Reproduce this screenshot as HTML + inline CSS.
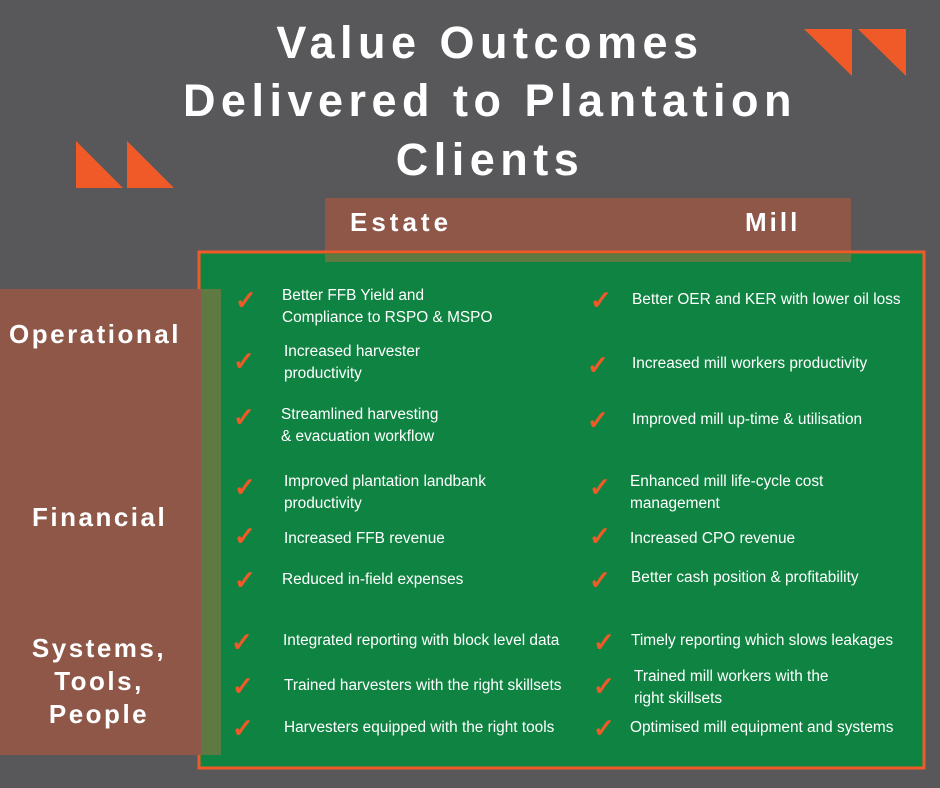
<!DOCTYPE html>
<html><head><meta charset="utf-8"><style>
body{margin:0;width:940px;height:788px;background:#58585a;position:relative;overflow:hidden;font-family:"Liberation Sans",sans-serif}
.a{position:absolute}
.t{position:absolute;left:0;width:980px;text-align:center;color:#fff;font-weight:bold;font-size:45px;letter-spacing:5.5px;white-space:nowrap}
.h{position:absolute;color:#fff;font-weight:bold;font-size:26px;letter-spacing:2.5px;white-space:nowrap}
.s{position:absolute;color:#fff;font-size:15.4px;line-height:22px;white-space:nowrap}
.c{position:absolute;color:#f05a28;font-size:26px;line-height:24px;font-weight:bold}
</style></head><body>
<svg class="a" style="left:0;top:0" width="940" height="788">
<polygon points="804,29 852,29 852,76" fill="#f05a28"/>
<polygon points="858,29 906,29 906,76" fill="#f05a28"/>
<polygon points="76,141 76,188 123,188" fill="#f05a28"/>
<polygon points="127,141 127,188 174,188" fill="#f05a28"/>
<rect x="325" y="198" width="526" height="64" fill="#8e5748"/>
<rect x="199" y="252" width="725" height="516" fill="#0f8442" stroke="#f05a28" stroke-width="3"/>
<rect x="325" y="254" width="526" height="8" fill="#5e7a42"/>
<rect x="0" y="289" width="221" height="466" fill="#8e5748"/>
<rect x="201" y="289" width="20" height="466" fill="#5e7a42"/>
</svg>
<div class="t" style="top:17px">Value Outcomes</div>
<div class="t" style="top:75px">Delivered to Plantation</div>
<div class="t" style="top:134px">Clients</div>
<div class="h" style="left:350px;top:207px;letter-spacing:4px">Estate</div>
<div class="h" style="left:745px;top:207px;letter-spacing:3px">Mill</div>
<div class="h" style="left:9px;top:319px">Operational</div>
<div class="h" style="left:32px;top:502px">Financial</div>
<div class="h" style="left:24px;top:632px;text-align:center;width:150px;line-height:33px">Systems,<br>Tools,<br>People</div>

<div class="c" style="left:235px;top:288px">✓</div><div class="s" style="left:282px;top:285px">Better FFB Yield and<br>Compliance to RSPO &amp; MSPO</div>
<div class="c" style="left:233px;top:349px">✓</div><div class="s" style="left:284px;top:341px">Increased harvester<br>productivity</div>
<div class="c" style="left:233px;top:405px">✓</div><div class="s" style="left:281px;top:404px">Streamlined harvesting<br>&amp; evacuation workflow</div>
<div class="c" style="left:234px;top:475px">✓</div><div class="s" style="left:284px;top:471px">Improved plantation landbank<br>productivity</div>
<div class="c" style="left:234px;top:524px">✓</div><div class="s" style="left:284px;top:528px">Increased FFB revenue</div>
<div class="c" style="left:234px;top:568px">✓</div><div class="s" style="left:282px;top:569px">Reduced in-field expenses</div>
<div class="c" style="left:231px;top:630px">✓</div><div class="s" style="left:283px;top:630px">Integrated reporting with block level data</div>
<div class="c" style="left:232px;top:674px">✓</div><div class="s" style="left:284px;top:675px">Trained harvesters with the right skillsets</div>
<div class="c" style="left:232px;top:716px">✓</div><div class="s" style="left:284px;top:717px">Harvesters equipped with the right tools</div>

<div class="c" style="left:590px;top:288px">✓</div><div class="s" style="left:632px;top:289px">Better OER and KER with lower oil loss</div>
<div class="c" style="left:587px;top:353px">✓</div><div class="s" style="left:632px;top:353px">Increased mill workers productivity</div>
<div class="c" style="left:587px;top:408px">✓</div><div class="s" style="left:632px;top:409px">Improved mill up-time &amp; utilisation</div>
<div class="c" style="left:589px;top:475px">✓</div><div class="s" style="left:630px;top:471px">Enhanced mill life-cycle cost<br>management</div>
<div class="c" style="left:589px;top:524px">✓</div><div class="s" style="left:630px;top:528px">Increased CPO revenue</div>
<div class="c" style="left:589px;top:568px">✓</div><div class="s" style="left:631px;top:567px">Better cash position &amp; profitability</div>
<div class="c" style="left:593px;top:630px">✓</div><div class="s" style="left:631px;top:630px">Timely reporting which slows leakages</div>
<div class="c" style="left:593px;top:674px">✓</div><div class="s" style="left:634px;top:666px">Trained mill workers with the<br>right skillsets</div>
<div class="c" style="left:593px;top:716px">✓</div><div class="s" style="left:630px;top:717px">Optimised mill equipment and systems</div>
</body></html>
